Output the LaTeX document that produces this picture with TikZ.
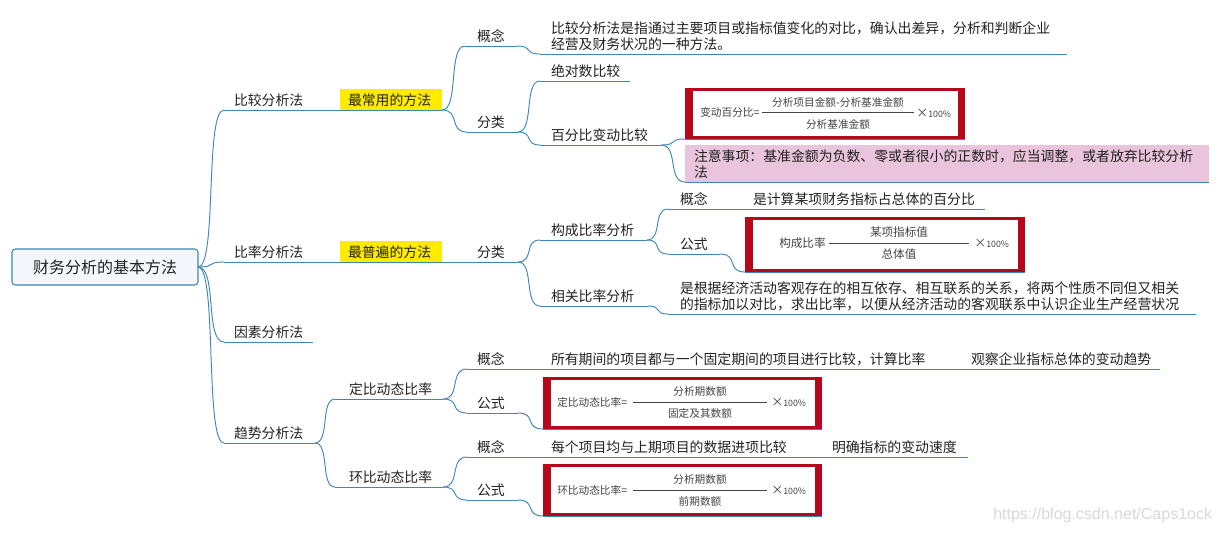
\documentclass[tikz,border=0pt]{standalone}
\usepackage{fontspec}
\setmainfont{Noto Sans CJK SC}
\newfontfamily\wmfont{Liberation Sans}
\usetikzlibrary{calc}
\definecolor{linec}{HTML}{3F86B8}
\definecolor{inkc}{HTML}{222222}
\definecolor{boxred}{HTML}{B5081A}
\definecolor{rootfill}{HTML}{F4F8FD}
\definecolor{hiyellow}{HTML}{FFEB00}
\definecolor{notepink}{HTML}{EAC4DC}
\definecolor{formink}{HTML}{444444}
\tikzset{
  branch/.style={draw=linec,line width=0.7pt},
  topicnode/.style={anchor=south west,inner ysep=0pt,outer sep=0pt,align=left,text=inkc,
    font=\fontsize{10.4}{11.5}\selectfont},
  rootnode/.style={draw=linec,line width=0.8pt,fill=rootfill,rounded corners=2.5pt,text=inkc,
    anchor=north west,inner sep=0pt,outer sep=0pt,minimum width=139.5pt,minimum height=27pt,
    font=\fontsize{12}{14}\selectfont},
  formtext/.style={text=formink,inner sep=0pt,font=\fontsize{8}{9}\selectfont},
  formbar/.style={draw=formink,line width=0.6pt},
  wmark/.style={text=black!15,font=\wmfont\fontsize{12}{14}\selectfont,inner sep=0pt},
}
\newcommand\mmtall{\vrule width 0pt height 12pt depth 0pt\relax}
\newcommand\mmtopic[7][]{%
  \pgfmathsetlengthmacro\mmtw{(#4-#3-2*#6)*0.75pt}%
  \pgfmathsetlengthmacro\mmindent{#6*0.75pt}%
  \node[topicnode,text width=\mmtw,inner xsep=\mmindent,#1] (#2) at (#3,#5) {#7\vrule width 0pt height 0pt depth 3.75pt\relax};
  \draw[branch] (#2.south west) -- (#2.south east);
}
\newcommand\mmconn[2]{%
  \draw[branch] (#1) .. controls ($(#1)!0.75!(#2 |- #1)$) and ($(#2)!0.75!(#1 |- #2)$) .. (#2);
}
\newcommand\mmstraight[2]{\draw[branch] (#1.south east) -- (#2.south west);}
\newcommand\formulabox[5]{%
  \pgfmathsetlengthmacro\mmw{(#4-#2)*0.75pt}%
  \pgfmathsetlengthmacro\mmh{(#5-#3)*0.75pt}%
  \node[fill=boxred,anchor=north west,inner sep=0pt,outer sep=0pt,minimum width=\mmw,minimum height=\mmh] (#1) at (#2,#3) {};
  \fill[white] (#2+7.5,#3+3) rectangle (#4-7.5,#5-3);
  \draw[branch] (#1.south west) -- (#1.south east);
}
\newcommand\formulatext[9]{%
  \node[formtext,anchor=west] (#1l) at (#2,#4) {#8};
  \draw[formbar] (#5,#4) -- (#6,#4);
  \node[formtext,anchor=west,font=\fontsize{6.6}{8}\selectfont] (#1t) at (#7,#4+0.5) {{\fontsize{9}{9}\selectfont ×}100\%};
  \node[formtext] (#1n) at ({(#5+#6)/2},#4-10.5) {#3};
  \node[formtext] (#1d) at ({(#5+#6)/2},#4+11.5) {#9};
}
\begin{document}
\begin{tikzpicture}[x=0.75pt,y=-0.75pt]
\useasboundingbox (0,0) rectangle (1218,533);
\fill[white] (0,0) rectangle (1218,533);

% root
\node[rootnode] (root) at (12,249) {财务分析的基本方法};

% level 1
\mmtopic{compare}{224}{335}{110}{10}{比较分析法}
\mmtopic{ratio}{224}{335}{262}{10}{比率分析法}
\mmtopic{factor}{224}{313}{342}{10}{因素分析法}
\mmtopic{trend}{224}{315}{443}{10}{趋势分析法}
\mmconn{root.east}{compare.south west}
\mmconn{root.east}{ratio.south west}
\mmconn{root.east}{factor.south west}
\mmconn{root.east}{trend.south west}

% compare branch
\mmtopic[fill=hiyellow]{common}{340}{442}{110}{8}{\mmtall 最常用的方法}
\mmstraight{compare}{common}
\mmtopic{cconcept}{465}{517}{46}{12}{概念}
\mmtopic{cclass}{467}{518}{132}{10}{分类}
\mmconn{common.south east}{cconcept.south west}
\mmconn{common.south east}{cclass.south west}
\mmtopic{cdesc}{540}{1067}{54}{11}{比较分析法是指通过主要项目或指标值变化的对比，确认出差异，分析和判断企业\\经营及财务状况的一种方法。}
\mmconn{cconcept.south east}{cdesc.south west}
\mmtopic{cabs}{540}{630}{81}{11}{绝对数比较}
\mmtopic{cpct}{540}{661}{145}{11}{百分比变动比较}
\mmconn{cclass.south east}{cabs.south west}
\mmconn{cclass.south east}{cpct.south west}
\formulabox{fa}{685}{88}{965}{139}
\formulatext{fa}{700}{分析项目金额-分析基准金额}{112.5}{762}{914}{916}{变动百分比=}{分析基准金额}
\mmconn{cpct.south east}{fa.south west}
\mmtopic[fill=notepink]{cnote}{685}{1209}{182}{9}{\vrule width 0pt height 12.75pt depth 0pt\relax 注意事项：基准金额为负数、零或者很小的正数时，应当调整，或者放弃比较分析\\法}
\mmconn{cpct.south east}{cnote.south west}

% ratio branch
\mmtopic[fill=hiyellow]{general}{340}{442}{262}{8}{\mmtall 最普遍的方法}
\mmstraight{ratio}{general}
\mmtopic{rclass}{467}{518}{262}{10}{分类}
\mmstraight{general}{rclass}
\mmtopic{rstruct}{540}{647}{240}{11}{构成比率分析}
\mmtopic{rrel}{540}{648}{306}{11}{相关比率分析}
\mmconn{rclass.south east}{rstruct.south west}
\mmconn{rclass.south east}{rrel.south west}
\mmtopic{rconcept}{668}{730}{209}{12}{概念}
\mmtopic{rconceptd}{730}{985}{209}{23}{是计算某项财务指标占总体的百分比}
\mmstraight{rconcept}{rconceptd}
\mmtopic{rformula}{668}{720}{254}{12}{公式}
\mmconn{rstruct.south east}{rconcept.south west}
\mmconn{rstruct.south east}{rformula.south west}
\formulabox{fb}{745}{217}{1025}{272}
\formulatext{fb}{779}{\fontsize{8.7}{9}\selectfont 某项指标值}{243}{829}{969}{974}{\fontsize{8.7}{9}\selectfont 构成比率}{\fontsize{8.7}{9}\selectfont 总体值}
\mmconn{rformula.south east}{fb.south west}
\mmtopic{rdesc}{668}{1196}{314}{12}{是根据经济活动客观存在的相互依存、相互联系的关系，将两个性质不同但又相关\\的指标加以对比，求出比率，以便从经济活动的客观联系中认识企业生产经营状况}
\mmconn{rrel.south east}{rdesc.south west}

% trend branch
\mmtopic{tfix}{335}{443}{399}{14}{定比动态比率}
\mmtopic{tchain}{335}{443}{487}{14}{环比动态比率}
\mmconn{trend.south east}{tfix.south west}
\mmconn{trend.south east}{tchain.south west}

\mmtopic{fconcept}{467}{540}{369}{10}{概念}
\mmtopic{fconceptd}{540}{960}{369}{11}{所有期间的项目都与一个固定期间的项目进行比较，计算比率}
\mmtopic{fconcepte}{960}{1160}{369}{11}{观察企业指标总体的变动趋势}
\mmstraight{fconcept}{fconceptd}
\mmstraight{fconceptd}{fconcepte}
\mmtopic{fformula}{467}{518}{413}{10}{公式}
\mmconn{tfix.south east}{fconcept.south west}
\mmconn{tfix.south east}{fformula.south west}
\formulabox{fc}{543}{377}{822}{429}
\formulatext{fc}{557}{分析期数额}{402}{633}{767}{771}{定比动态比率=}{固定及其数额}
\mmconn{fformula.south east}{fc.south west}

\mmtopic{hconcept}{467}{540}{457}{10}{概念}
\mmtopic{hconceptd}{540}{821}{457}{11}{每个项目均与上期项目的数据进项比较}
\mmtopic{hconcepte}{821}{968}{457}{11}{明确指标的变动速度}
\mmstraight{hconcept}{hconceptd}
\mmstraight{hconceptd}{hconcepte}
\mmtopic{hformula}{467}{518}{500}{10}{公式}
\mmconn{tchain.south east}{hconcept.south west}
\mmconn{tchain.south east}{hformula.south west}
\formulabox{fd}{543}{464}{822}{516}
\formulatext{fd}{557}{分析期数额}{490}{633}{767}{771}{环比动态比率=}{前期数额}
\mmconn{hformula.south east}{fd.south west}

% watermark
\node[wmark,anchor=west] (wm) at (993,515) {https://blog.csdn.net/Caps1ock};
\end{tikzpicture}
\end{document}
